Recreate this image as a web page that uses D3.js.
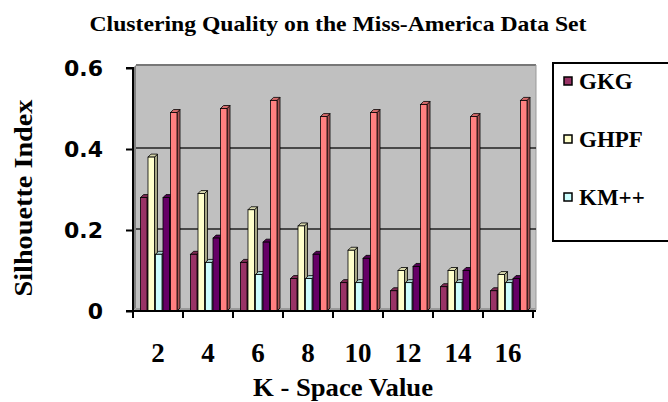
<!DOCTYPE html>
<html><head><meta charset="utf-8">
<script src="https://cdn.jsdelivr.net/npm/d3@7"></script>
<style>body{margin:0;background:#fff}svg{display:block}</style>
</head><body>
<script>
const categories = ["2","4","6","8","10","12","14","16"];
const seriesNames = ["GKG","GHPF","KM++","Series4","Series5"];
const gkg    = [0.28,0.14,0.12,0.08,0.07,0.05,0.06,0.05];
const ghpf   = [0.38,0.29,0.25,0.21,0.15,0.10,0.10,0.09];
const kmpp   = [0.14,0.12,0.09,0.08,0.07,0.07,0.07,0.07];
const s4     = [0.28,0.18,0.17,0.14,0.13,0.11,0.10,0.08];
const s5     = [0.49,0.50,0.52,0.48,0.49,0.51,0.48,0.52];
const yTicks = [0,0.2,0.4,0.6];
const yTickLabels = ["0","0.2","0.4","0.6"];
const legendShown = ["GKG","GHPF","KM++"];

const colors = ["#993366","#FFFFCC","#CCFFFF","#660066","#FF8080"];
const allSeries = [gkg,ghpf,kmpp,s4,s5];

const W=668,H=402;
const svg = d3.select("body").append("svg").attr("width",W).attr("height",H);

const x0 = d3.scaleBand().domain(categories).range([133,533]).padding(0);
const x1 = d3.scaleBand().domain(seriesNames).range([7.5,45]).padding(0);
const y = d3.scaleLinear().domain([0,0.6]).range([311,68]);
const dep = 3;

// back wall
svg.append("rect").attr("x",x0.range()[0]+dep).attr("y",y(0.6)-dep)
  .attr("width",400).attr("height",y(0)-y(0.6)+dep-1).attr("fill","#C0C0C0");
svg.append("line").attr("x1",x0.range()[0]+dep).attr("x2",x0.range()[1]+dep)
  .attr("y1",y(0.6)-dep).attr("y2",y(0.6)-dep).attr("stroke","#777").attr("stroke-width",2);
svg.append("line").attr("x1",x0.range()[1]+dep).attr("x2",x0.range()[1]+dep)
  .attr("y1",y(0.6)-dep).attr("y2",y(0)-1).attr("stroke","#999").attr("stroke-width",1);
svg.append("path").attr("d",`M133,${y(0.6)} L${133+dep},${y(0.6)-dep} L${133+dep},${y(0)-dep} L133,${y(0)} Z`)
  .attr("fill","#808080");
svg.append("path").attr("d",`M133,${y(0)} L${133+dep},${y(0)-dep} L${533+dep},${y(0)-dep} L533,${y(0)} Z`)
  .attr("fill","#999");

// gridlines
svg.selectAll(".grid").data(yTicks.filter(d=>d>0 && d<0.6)).join("line")
  .attr("x1",133+dep).attr("x2",533+dep)
  .attr("y1",d=>y(d)-1).attr("y2",d=>y(d)-1)
  .attr("stroke","#222").attr("stroke-width",1.5);

// bars
const bw = 6.5;
const g = svg.append("g");
categories.forEach((c,i)=>{
  seriesNames.forEach((s,j)=>{
    const v = allSeries[j][i];
    const bx = x0(c)+x1(s);
    const top = y(v);
    const bottom = y(0);
    const col = colors[j];
    const dark = d3.color(col).darker(1.2).toString();
    const mid = d3.color(col).darker(0.5).toString();
    g.append("path").attr("d",`M${bx+bw},${top} L${bx+bw+dep},${top-dep} L${bx+bw+dep},${bottom-dep} L${bx+bw},${bottom} Z`)
      .attr("fill",dark).attr("stroke","#000").attr("stroke-width",0.8);
    g.append("path").attr("d",`M${bx},${top} L${bx+dep},${top-dep} L${bx+bw+dep},${top-dep} L${bx+bw},${top} Z`)
      .attr("fill",mid).attr("stroke","#000").attr("stroke-width",0.8);
    g.append("rect").attr("x",bx).attr("y",top).attr("width",bw).attr("height",bottom-top)
      .attr("fill",col).attr("stroke","#000").attr("stroke-width",0.8);
  });
});

// y axis
const yAxis = svg.append("g").attr("transform","translate(133,0)")
  .call(d3.axisLeft(y).tickValues(yTicks).tickSize(7).tickFormat((d,i)=>yTickLabels[i]).tickPadding(23));
yAxis.select(".domain").attr("stroke","#000").attr("stroke-width",2).attr("d",`M-7,${y(0.6)}H0V${y(0)}`);
yAxis.selectAll(".tick line").attr("stroke","#000").attr("stroke-width",2);
yAxis.selectAll("text").attr("font-family","DejaVu Sans").attr("font-weight","bold")
  .attr("font-size",22).attr("fill","#000").attr("dy","0.36em");

// x axis
const xAxis = svg.append("g").attr("transform",`translate(0,${y(0)})`);
xAxis.append("line").attr("x1",126).attr("x2",536).attr("y1",0).attr("y2",0).attr("stroke","#000").attr("stroke-width",2);
const xt = d3.range(categories.length+1).map(i=>133+i*x0.bandwidth());
xAxis.selectAll(".xt").data(xt).join("line").attr("x1",d=>d).attr("x2",d=>d)
  .attr("y1",0).attr("y2",7).attr("stroke","#000").attr("stroke-width",2);
xAxis.selectAll(".xl").data(categories).join("text")
  .attr("x",d=>x0(d)+x0.bandwidth()/2).attr("y",51)
  .attr("text-anchor","middle").attr("font-family","Liberation Serif").attr("font-weight","bold")
  .attr("font-size",27).text(d=>d);

// titles
svg.append("text").attr("x",338).attr("y",31).attr("text-anchor","middle")
  .attr("font-family","Liberation Serif").attr("font-weight","bold").attr("font-size",22)
  .attr("textLength",497).attr("lengthAdjust","spacingAndGlyphs")
  .text("Clustering Quality on the Miss-America Data Set");
svg.append("text").attr("x",343).attr("y",396).attr("text-anchor","middle")
  .attr("font-family","Liberation Serif").attr("font-weight","bold").attr("font-size",26)
  .attr("textLength",180).attr("lengthAdjust","spacingAndGlyphs")
  .text("K - Space Value");
svg.append("text").attr("transform","translate(32,198) rotate(-90)").attr("text-anchor","middle")
  .attr("font-family","Liberation Serif").attr("font-weight","bold").attr("font-size",25)
  .attr("textLength",197).attr("lengthAdjust","spacingAndGlyphs")
  .text("Silhouette Index");

// legend
const lg = svg.append("g");
lg.append("rect").attr("x",553).attr("y",63).attr("width",140).attr("height",178)
  .attr("fill","#fff").attr("stroke","#000").attr("stroke-width",2);
const ly = d3.scalePoint().domain(legendShown).range([81,197]);
legendShown.forEach((n,i)=>{
  lg.append("rect").attr("x",564).attr("y",ly(n)-4).attr("width",8).attr("height",8)
    .attr("fill",colors[i]).attr("stroke","#000").attr("stroke-width",1.5);
  lg.append("text").attr("x",579).attr("y",ly(n)+8).attr("font-family","Liberation Serif")
    .attr("font-weight","bold").attr("font-size",23).text(n);
});
</script>
</body></html>
